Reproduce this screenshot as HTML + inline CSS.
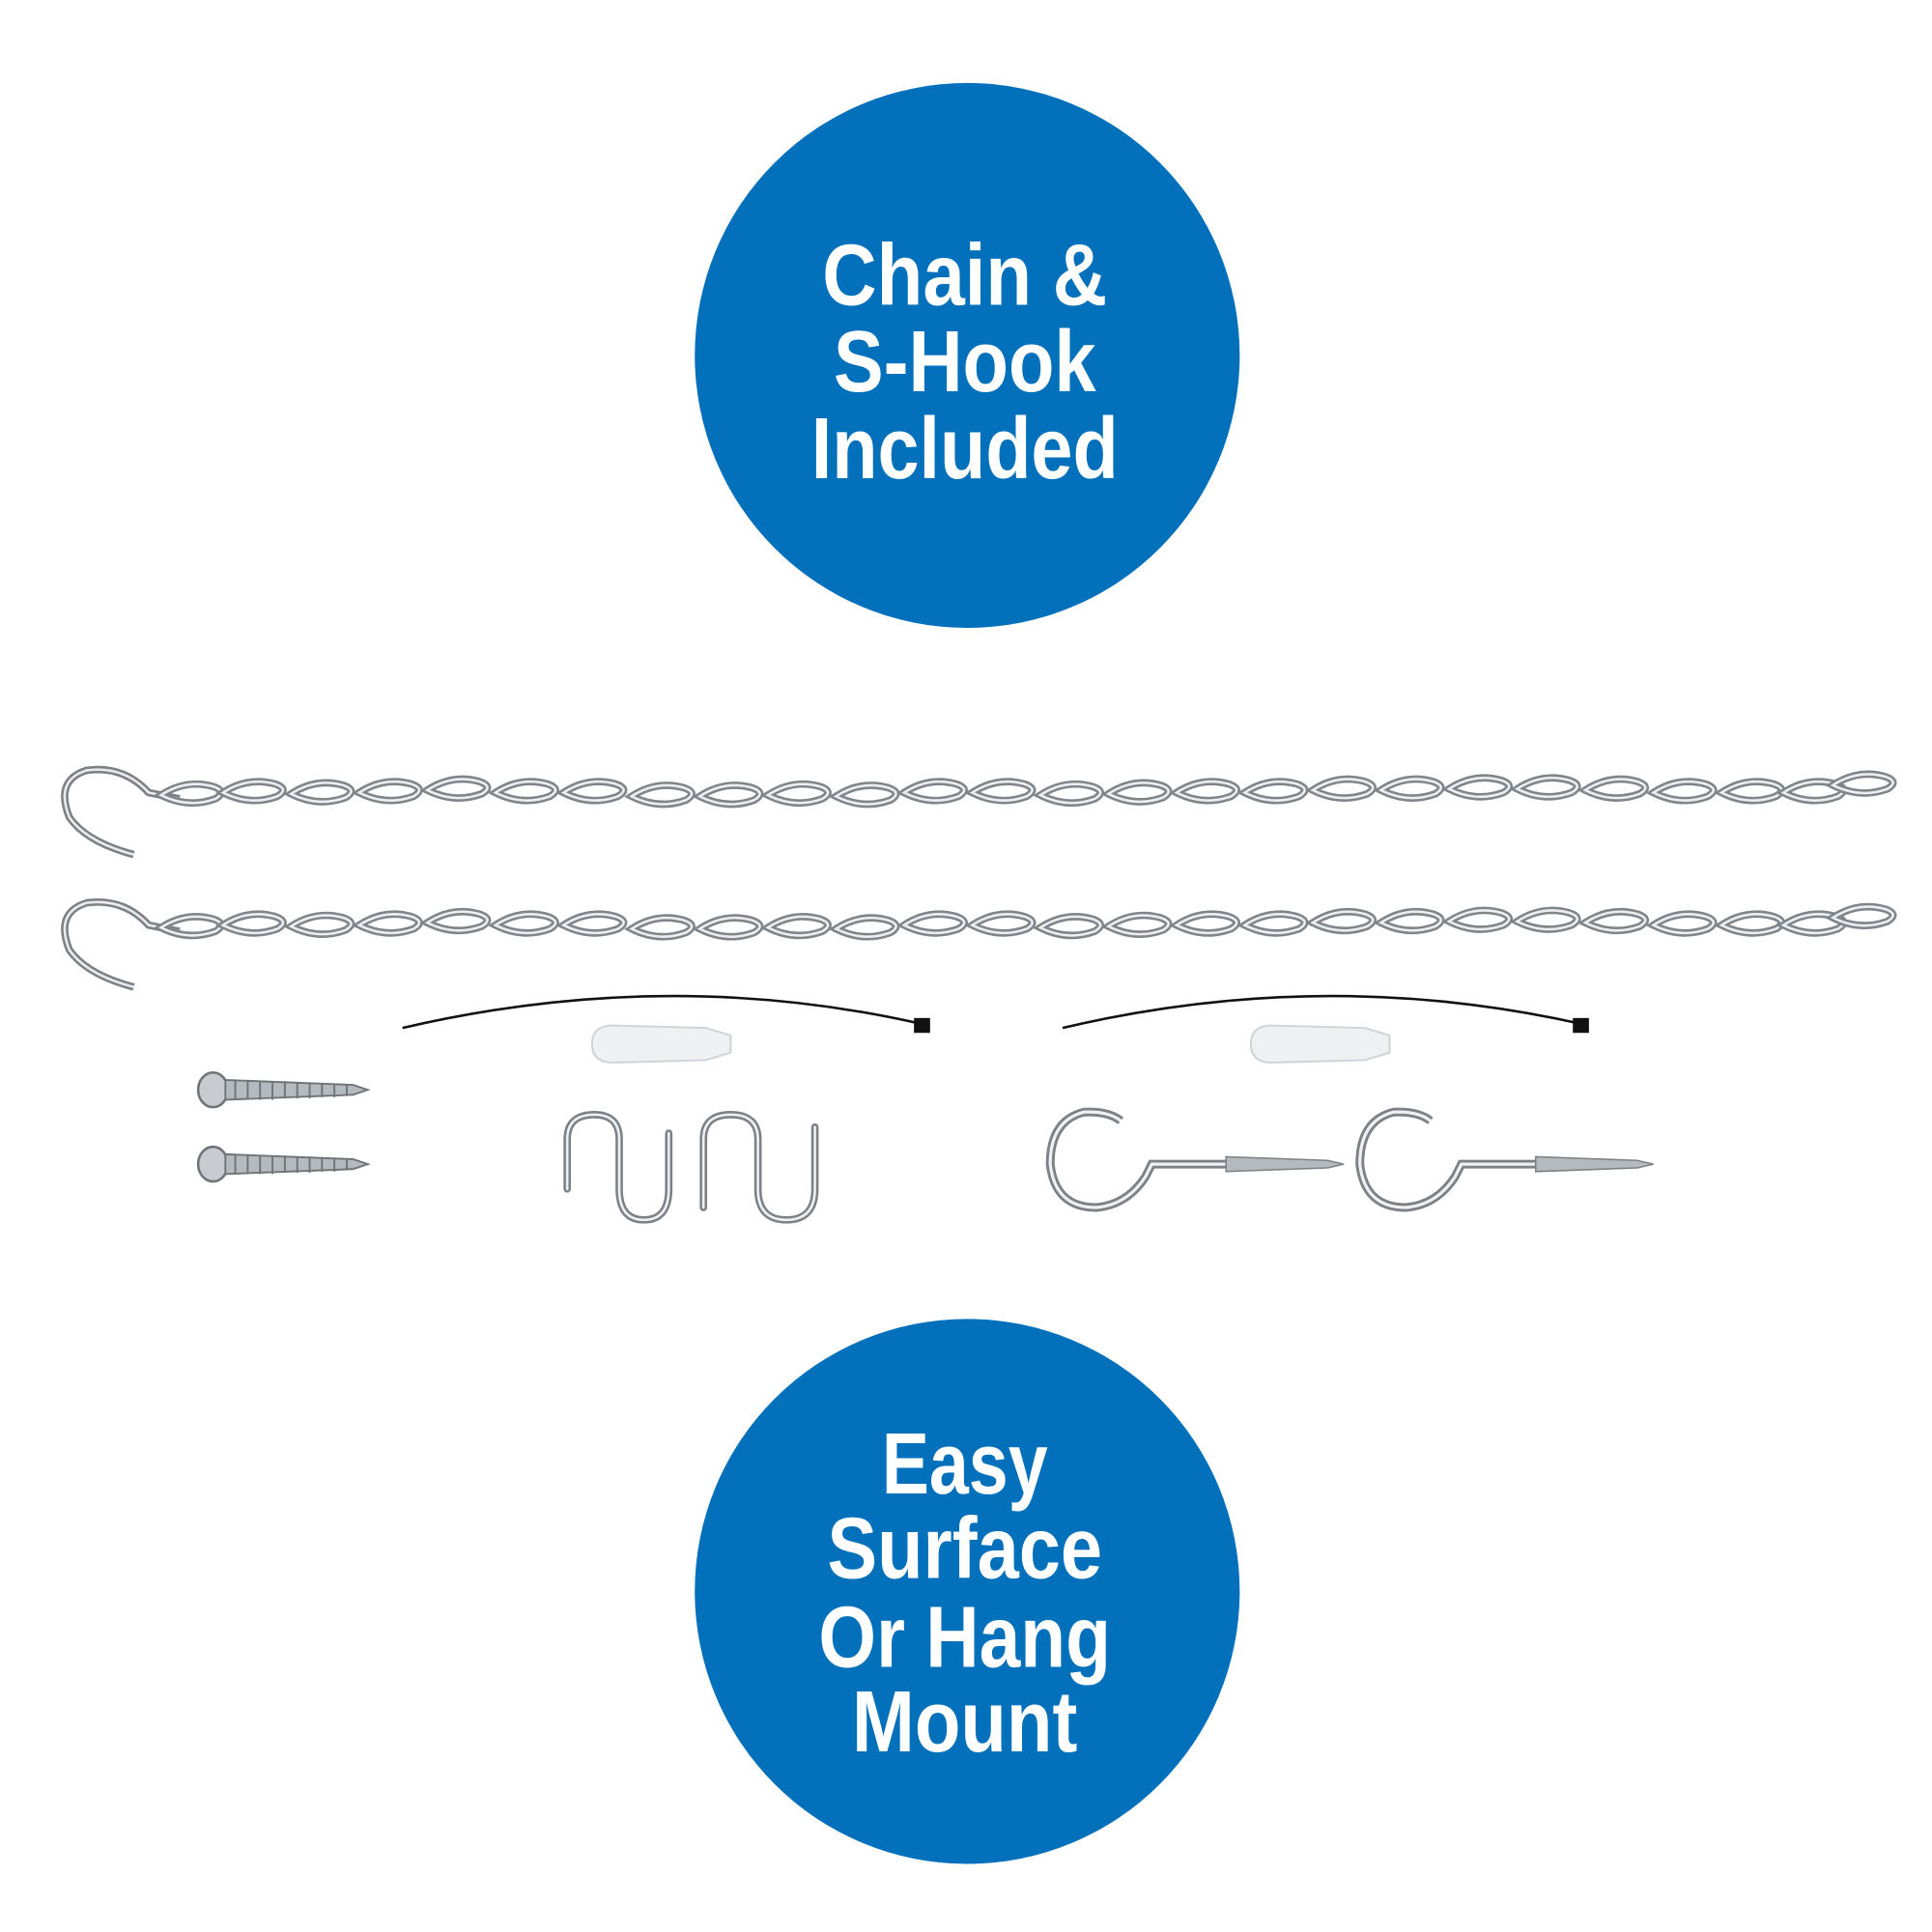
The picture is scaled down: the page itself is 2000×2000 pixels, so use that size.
<!DOCTYPE html>
<html><head><meta charset="utf-8"><style>html,body{margin:0;padding:0;background:#fff}svg{display:block}</style></head><body>
<svg width="2000" height="2000" viewBox="0 0 1560 1560" xmlns="http://www.w3.org/2000/svg">
<defs>
<g id="link"><path d="M0,0 Q20,-13 42,-7 Q54,-3 44,3 Q22,11 0,0 Z" fill="none" stroke="#80858a" stroke-width="6"/><path d="M0,0 Q20,-13 42,-7 Q54,-3 44,3 Q22,11 0,0 Z" fill="none" stroke="#eceef0" stroke-width="2"/></g>
<g id="chain">
<path d="M108,690 Q70,680 56,660 Q44,630 70,622 Q100,618 120,640 L145,645" fill="none" stroke="#7d8186" stroke-width="6"/>
<path d="M108,690 Q70,680 56,660 Q44,630 70,622 Q100,618 120,640 L145,645" fill="none" stroke="#e9ebed" stroke-width="2"/>
<use href="#link" x="130" y="642"/><use href="#link" x="180" y="640"/><use href="#link" x="235" y="641"/><use href="#link" x="290" y="640"/><use href="#link" x="345" y="638"/><use href="#link" x="400" y="640"/><use href="#link" x="455" y="640"/><use href="#link" x="510" y="643"/><use href="#link" x="565" y="643"/><use href="#link" x="620" y="642"/><use href="#link" x="675" y="643"/><use href="#link" x="730" y="640"/><use href="#link" x="785" y="640"/><use href="#link" x="840" y="642"/><use href="#link" x="895" y="641"/><use href="#link" x="950" y="640"/><use href="#link" x="1005" y="640"/><use href="#link" x="1060" y="638"/><use href="#link" x="1115" y="638"/><use href="#link" x="1170" y="637"/><use href="#link" x="1225" y="637"/><use href="#link" x="1280" y="638"/><use href="#link" x="1335" y="640"/><use href="#link" x="1390" y="640"/><use href="#link" x="1440" y="640"/><use href="#link" x="1480" y="634"/>
</g>
<g id="screw"><ellipse cx="172" cy="880" rx="12" ry="14" fill="#c8ccd0" stroke="#6f7479" stroke-width="2"/><path d="M182,872 L285,876 L297,880 L285,884 L182,888 Z" fill="#b5babf" stroke="#6f7479" stroke-width="1.5"/><path d="M190,872 l0,16 M200,872 l0,16 M210,873 l0,15 M220,873 l0,15 M230,873 l0,14 M240,874 l0,13 M250,874 l0,13 M260,875 l0,11 M270,875 l0,11 M280,876 l0,9" stroke="#6f7479" stroke-width="1.5"/></g>
<g id="eye"><path d="M905,905 Q895,897 875,898 Q848,905 848,940 Q852,975 885,975 Q910,973 925,950 L930,940 L1000,940" fill="none" stroke="#7d8186" stroke-width="7"/><path d="M905,905 Q895,897 875,898 Q848,905 848,940 Q852,975 885,975 Q910,973 925,950 L930,940 L1000,940" fill="none" stroke="#eef0f2" stroke-width="2.5"/><path d="M990,934 L1072,937 L1085,940 L1072,943 L990,946 Z" fill="#b5babf" stroke="#7d8186" stroke-width="1.2"/></g>
</defs>
<circle cx="781" cy="287" r="220" fill="#0270bb"/>
<circle cx="781" cy="1285" r="220" fill="#0270bb"/>
<g font-family="Liberation Sans Narrow, Liberation Sans, sans-serif" font-weight="bold" fill="#fff" font-size="70" text-anchor="middle">
<text x="779" y="246" textLength="230" lengthAdjust="spacingAndGlyphs">Chain &amp;</text>
<text x="779" y="316" textLength="212" lengthAdjust="spacingAndGlyphs">S-Hook</text>
<text x="779" y="386" textLength="248" lengthAdjust="spacingAndGlyphs">Included</text>
<text x="779" y="1206" textLength="134" lengthAdjust="spacingAndGlyphs">Easy</text>
<text x="779" y="1274" textLength="222" lengthAdjust="spacingAndGlyphs">Surface</text>
<text x="779" y="1346" textLength="236" lengthAdjust="spacingAndGlyphs">Or Hang</text>
<text x="779" y="1414" textLength="182" lengthAdjust="spacingAndGlyphs">Mount</text>
</g>
<use href="#chain"/>
<use href="#chain" y="107"/>
<path d="M325,830 Q540,780 745,827" fill="none" stroke="#111" stroke-width="2"/><rect x="738" y="822" width="13" height="12" fill="#111"/>
<path d="M858,830 Q1070,780 1278,827" fill="none" stroke="#111" stroke-width="2"/><rect x="1270" y="822" width="13" height="12" fill="#111"/>
<path d="M478,843 Q478,828 495,828 L570,830 L590,836 L590,850 L570,856 L495,858 Q478,858 478,843 Z" fill="#eef0f1" stroke="#cfd3d6" stroke-width="1.5"/>
<path d="M1010,843 Q1010,828 1027,828 L1102,830 L1122,836 L1122,850 L1102,856 L1027,858 Q1010,858 1010,843 Z" fill="#eef0f1" stroke="#cfd3d6" stroke-width="1.5"/>
<use href="#screw"/><use href="#screw" y="60"/>
<g fill="none" stroke-linecap="round">
<path d="M458,960 L458,920 Q458,900 480,900 Q500,900 500,920 L500,960 Q500,985 520,985 Q540,985 540,960 L540,915" stroke="#7d8186" stroke-width="6"/>
<path d="M458,960 L458,920 Q458,900 480,900 Q500,900 500,920 L500,960 Q500,985 520,985 Q540,985 540,960 L540,915" stroke="#eef0f2" stroke-width="2"/>
<path d="M568,975 L568,920 Q568,900 590,900 Q612,900 612,920 L612,960 Q612,985 635,985 Q658,985 658,960 L658,910" stroke="#7d8186" stroke-width="6"/>
<path d="M568,975 L568,920 Q568,900 590,900 Q612,900 612,920 L612,960 Q612,985 635,985 Q658,985 658,960 L658,910" stroke="#eef0f2" stroke-width="2"/>
</g>
<use href="#eye"/><use href="#eye" x="250"/>
</svg>
</body></html>
